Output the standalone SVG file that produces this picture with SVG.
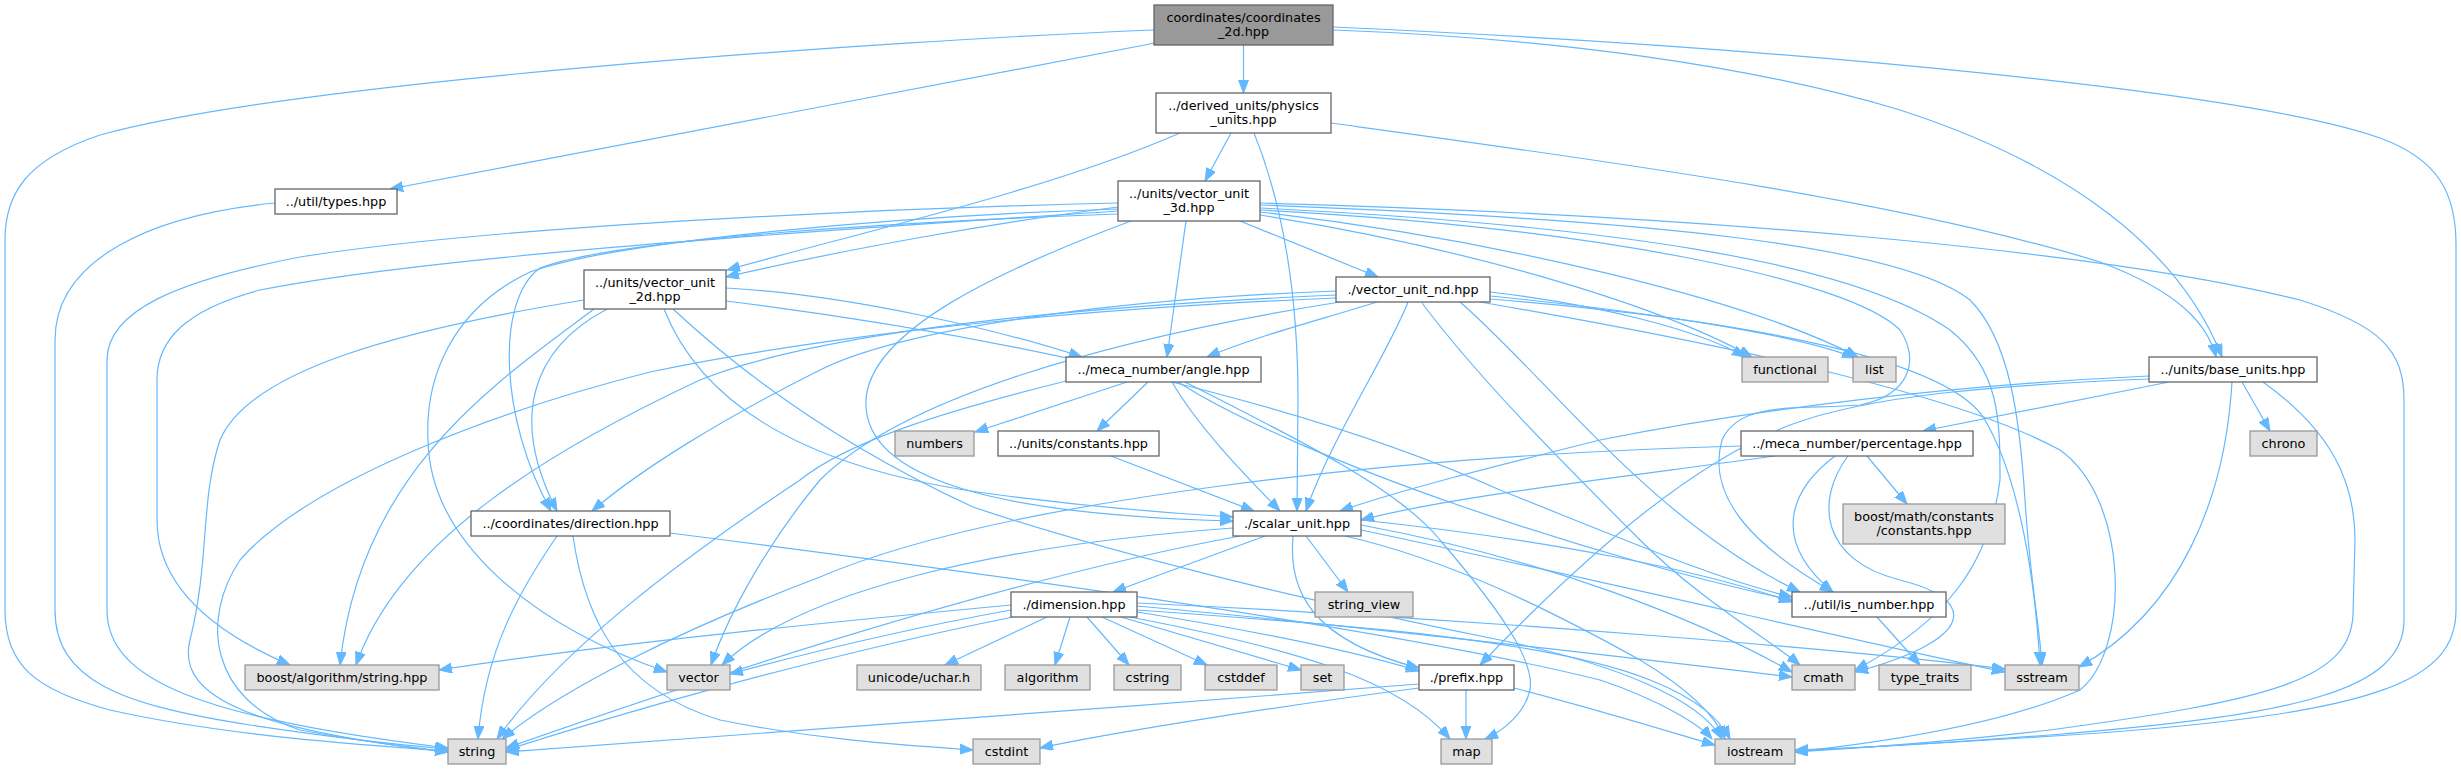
<svg xmlns="http://www.w3.org/2000/svg" width="2461" height="769" viewBox="0 0 2461 769">
<style>
.e{fill:none;stroke:#63b8ff;stroke-width:1.2;marker-end:url(#ah)}
.n rect{fill:#ffffff;stroke:#666666;stroke-width:1.3}
.g rect{fill:#e0e0e0;stroke:#999999;stroke-width:1.3}
.r rect{fill:#999999;stroke:#666666;stroke-width:1.3}
text{font-family:"DejaVu Sans","Liberation Sans",sans-serif;font-size:12.8px;fill:#000000;text-anchor:middle}
</style>
<defs>
<marker id="ah" markerUnits="userSpaceOnUse" markerWidth="14" markerHeight="11" refX="13" refY="5" orient="auto">
<path d="M0,0 L13,5 L0,10 z" fill="#63b8ff" stroke="#63b8ff" stroke-width="1"/>
</marker>
</defs>
<rect width="2461" height="769" fill="#ffffff"/>
<g id="connectors">
<path class="e" d="M1243.5,45 L1243.5,93"/>
<path class="e" d="M1155,43 L390,189"/>
<path class="e" d="M1154,30 C900,40 300,80 100,135 C25,160 5,195 5,240 L5,610 C5,665 35,690 110,710 C220,735 360,745 448,751"/>
<path class="e" d="M1333,30 C1550,38 1750,65 1900,110 C2070,165 2180,250 2222,357"/>
<path class="e" d="M1333,27 C1800,48 2250,92 2380,138 C2440,160 2456,195 2456,245 L2456,610 C2456,680 2380,712 2100,733 C1950,743 1850,748 1795,751"/>
<path class="e" d="M275,203 C150,215 55,260 55,340 L55,610 C55,680 120,705 250,725 C330,737 400,745 448,749"/>
<path class="e" d="M1231,133 L1205,181"/>
<path class="e" d="M1180,133 C1050,190 850,235 727,270"/>
<path class="e" d="M1254,133 C1285,210 1298,300 1298,400 L1297,511"/>
<path class="e" d="M1331,123 C1600,160 1900,200 2100,262 C2180,292 2208,325 2216,357"/>
<path class="e" d="M1118,207 C1000,222 850,248 726,277"/>
<path class="e" d="M1118,203 C900,208 500,225 300,257 C180,280 107,310 107,360 L107,610 C107,680 200,718 448,748"/>
<path class="e" d="M1118,211 C900,226 450,252 260,290 C185,310 157,340 157,380 L157,520 C157,590 220,635 290,665"/>
<path class="e" d="M1118,214 C900,222 620,238 540,268 C495,300 500,420 551,511"/>
<path class="e" d="M1118,209 C900,216 620,240 530,272 C450,310 425,380 428,440 C430,540 530,625 667,672"/>
<path class="e" d="M1131,221 C1000,270 870,330 866,400 C862,480 1000,515 1233,521"/>
<path class="e" d="M1186,221 L1167,357"/>
<path class="e" d="M1240,221 L1378,277"/>
<path class="e" d="M1260,215 C1450,245 1650,300 1752,357"/>
<path class="e" d="M1260,212 C1500,240 1750,300 1858,357"/>
<path class="e" d="M1260,203 C1700,215 2100,250 2300,300 C2380,325 2404,350 2404,400 L2404,620 C2404,690 2300,715 2050,735 C1920,745 1830,749 1795,750"/>
<path class="e" d="M1260,205 C1650,220 1900,245 1970,300 C2010,340 2020,420 2025,500 C2030,580 2040,630 2042,665"/>
<path class="e" d="M1260,208 C1600,225 1850,260 1950,330 C2000,370 2000,420 2000,480 C1990,560 1950,620 1855,670"/>
<path class="e" d="M1260,210 C1600,228 1850,280 1900,330 C1920,360 1910,395 1860,405 C1800,410 1740,400 1722,440 C1705,500 1760,550 1833,592"/>
<path class="e" d="M726,288 C850,295 1000,330 1082,357"/>
<path class="e" d="M726,301 C1000,335 1300,400 1500,490 C1650,550 1720,580 1792,597"/>
<path class="e" d="M584,300 C400,330 250,370 220,440 C200,500 210,560 190,640 C175,700 260,730 448,752"/>
<path class="e" d="M594,309 C500,380 360,470 340,665"/>
<path class="e" d="M607,309 C530,350 510,420 557,511"/>
<path class="e" d="M664,309 C700,400 800,470 1000,495 C1100,508 1180,514 1233,517"/>
<path class="e" d="M673,309 C760,390 860,455 973,507 C1100,550 1300,600 1500,640 C1620,665 1700,700 1722,739"/>
<path class="e" d="M1377,302 C1320,320 1260,335 1207,357"/>
<path class="e" d="M1408,302 C1390,350 1330,440 1306,511"/>
<path class="e" d="M1336,291 C1100,300 900,330 820,370 C720,420 640,470 592,511"/>
<path class="e" d="M1336,295 C1000,310 800,340 700,380 C550,450 400,540 356,665"/>
<path class="e" d="M1336,298 C1000,312 780,345 650,372 C500,410 310,480 240,560 C200,620 210,700 300,730 C380,745 420,748 448,752"/>
<path class="e" d="M1340,302 C1100,340 900,400 820,480 C770,540 730,610 711,665"/>
<path class="e" d="M1490,292 C1600,305 1700,330 1745,357"/>
<path class="e" d="M1490,296 C1650,312 1800,335 1855,358"/>
<path class="e" d="M1460,302 C1550,380 1650,520 1800,592"/>
<path class="e" d="M1422,303 C1480,380 1560,460 1640,540 C1700,600 1770,640 1800,665"/>
<path class="e" d="M1490,299 C1750,320 1950,360 1985,420 C2020,480 2035,580 2040,665"/>
<path class="e" d="M1480,302 C1700,340 1950,390 2060,450 C2130,500 2130,650 2080,690 C1990,730 1850,746 1795,752"/>
<path class="e" d="M1127,382 L975,432"/>
<path class="e" d="M1148,382 L1097,431"/>
<path class="e" d="M1172,382 C1200,430 1250,480 1280,511"/>
<path class="e" d="M1178,382 C1300,460 1600,560 1792,600"/>
<path class="e" d="M1066,381 C950,410 850,440 800,480 C680,560 560,650 497,739"/>
<path class="e" d="M1185,382 C1300,440 1400,490 1440,540 C1500,610 1535,660 1530,690 C1525,712 1505,730 1485,739"/>
<path class="e" d="M1111,456 L1254,511"/>
<path class="e" d="M2169,382 L1923,431"/>
<path class="e" d="M2242,382 L2270,431"/>
<path class="e" d="M2232,382 C2225,500 2180,610 2079,667"/>
<path class="e" d="M2263,382 C2330,430 2355,480 2355,540 L2353,615 C2350,680 2270,700 2050,730 C1920,745 1840,749 1795,752"/>
<path class="e" d="M2149,376 C1950,385 1750,410 1600,440 C1500,465 1400,490 1340,511"/>
<path class="e" d="M2149,379 C2000,385 1870,395 1790,425 C1700,460 1600,540 1480,665"/>
<path class="e" d="M1775,456 C1600,480 1450,497 1361,520"/>
<path class="e" d="M1741,446 C1400,455 1000,500 820,577 C680,630 560,690 502,739"/>
<path class="e" d="M1835,456 C1790,490 1770,540 1833,592"/>
<path class="e" d="M1848,456 C1815,500 1820,560 1900,580 C1980,600 1975,640 1855,672"/>
<path class="e" d="M1867,456 L1907,504"/>
<path class="e" d="M557,536 C520,590 485,650 478,739"/>
<path class="e" d="M573,536 C585,620 620,690 720,720 C820,740 900,745 973,750"/>
<path class="e" d="M670,533 C1000,575 1400,630 1600,680 C1660,700 1700,725 1712,739"/>
<path class="e" d="M1265,536 L1113,592"/>
<path class="e" d="M1306,536 L1348,592"/>
<path class="e" d="M1293,536 C1288,590 1310,640 1419,668"/>
<path class="e" d="M1240,536 C1000,580 700,680 506,748"/>
<path class="e" d="M1233,528 C1000,545 800,590 722,665"/>
<path class="e" d="M1361,520 C1550,540 1700,570 1792,602"/>
<path class="e" d="M1361,525 C1550,560 1700,620 1792,672"/>
<path class="e" d="M1361,530 C1600,580 1850,640 2005,672"/>
<path class="e" d="M1345,536 C1450,560 1550,610 1640,660 C1690,690 1715,715 1725,739"/>
<path class="e" d="M1011,605 C800,625 600,645 439,670"/>
<path class="e" d="M1011,610 C900,630 800,655 730,674"/>
<path class="e" d="M1013,617 C800,660 600,720 506,750"/>
<path class="e" d="M1047,617 L945,665"/>
<path class="e" d="M1070,617 L1055,665"/>
<path class="e" d="M1087,617 L1129,665"/>
<path class="e" d="M1102,617 L1207,665"/>
<path class="e" d="M1121,617 L1301,670"/>
<path class="e" d="M1137,612 C1250,630 1350,650 1419,671"/>
<path class="e" d="M1130,617 C1300,650 1400,680 1450,739"/>
<path class="e" d="M1137,606 C1400,630 1650,660 1792,677"/>
<path class="e" d="M1137,603 C1500,620 1850,650 2005,669"/>
<path class="e" d="M1137,610 C1350,625 1550,640 1650,680 C1700,700 1720,720 1730,739"/>
<path class="e" d="M1419,684 C1100,710 700,735 506,752"/>
<path class="e" d="M1419,688 C1250,710 1100,735 1040,748"/>
<path class="e" d="M1466,690 L1466,739"/>
<path class="e" d="M1514,688 C1600,710 1680,735 1715,745"/>
<path class="e" d="M1877,617 L1920,665"/>
</g>
<g id="node_coordinates_2d" class="r"><rect x="1154" y="5" width="179" height="40"/><text x="1243.5" y="21.5">coordinates/coordinates</text><text x="1243.5" y="35.5">_2d.hpp</text></g>
<g id="node_physics_units" class="n"><rect x="1156" y="93" width="175" height="40"/><text x="1243.5" y="109.5">../derived_units/physics</text><text x="1243.5" y="123.5">_units.hpp</text></g>
<g id="node_types" class="n"><rect x="275" y="189" width="122" height="25"/><text x="336" y="205.5">../util/types.hpp</text></g>
<g id="node_vector_unit_3d" class="n"><rect x="1118" y="181" width="142" height="40"/><text x="1189" y="197.5">../units/vector_unit</text><text x="1189" y="211.5">_3d.hpp</text></g>
<g id="node_vector_unit_2d" class="n"><rect x="584" y="270" width="142" height="39"/><text x="655" y="286.5">../units/vector_unit</text><text x="655" y="300.5">_2d.hpp</text></g>
<g id="node_vector_unit_nd" class="n"><rect x="1336" y="277" width="154" height="25"/><text x="1413" y="293.5">./vector_unit_nd.hpp</text></g>
<g id="node_angle" class="n"><rect x="1066" y="357" width="195" height="25"/><text x="1163.5" y="373.5">../meca_number/angle.hpp</text></g>
<g id="node_functional" class="g"><rect x="1742" y="357" width="86" height="25"/><text x="1785" y="373.5">functional</text></g>
<g id="node_list" class="g"><rect x="1853" y="357" width="43" height="25"/><text x="1874.5" y="373.5">list</text></g>
<g id="node_base_units" class="n"><rect x="2149" y="357" width="168" height="25"/><text x="2233" y="373.5">../units/base_units.hpp</text></g>
<g id="node_numbers" class="g"><rect x="895" y="431" width="79" height="25"/><text x="934.5" y="447.5">numbers</text></g>
<g id="node_constants" class="n"><rect x="998" y="431" width="161" height="25"/><text x="1078.5" y="447.5">../units/constants.hpp</text></g>
<g id="node_percentage" class="n"><rect x="1741" y="431" width="232" height="25"/><text x="1857" y="447.5">../meca_number/percentage.hpp</text></g>
<g id="node_chrono" class="g"><rect x="2250" y="431" width="67" height="25"/><text x="2283.5" y="447.5">chrono</text></g>
<g id="node_direction" class="n"><rect x="471" y="511" width="199" height="25"/><text x="570.5" y="527.5">../coordinates/direction.hpp</text></g>
<g id="node_scalar_unit" class="n"><rect x="1233" y="511" width="128" height="25"/><text x="1297" y="527.5">./scalar_unit.hpp</text></g>
<g id="node_boost_math_constants" class="g"><rect x="1843" y="504" width="162" height="40"/><text x="1924" y="520.5">boost/math/constants</text><text x="1924" y="534.5">/constants.hpp</text></g>
<g id="node_dimension" class="n"><rect x="1011" y="592" width="126" height="25"/><text x="1074" y="608.5">./dimension.hpp</text></g>
<g id="node_string_view" class="g"><rect x="1315" y="592" width="98" height="25"/><text x="1364" y="608.5">string_view</text></g>
<g id="node_is_number" class="n"><rect x="1792" y="592" width="154" height="25"/><text x="1869" y="608.5">../util/is_number.hpp</text></g>
<g id="node_boost_algorithm_string" class="g"><rect x="245" y="665" width="194" height="25"/><text x="342" y="681.5">boost/algorithm/string.hpp</text></g>
<g id="node_vector" class="g"><rect x="667" y="665" width="63" height="25"/><text x="698.5" y="681.5">vector</text></g>
<g id="node_uchar" class="g"><rect x="857" y="665" width="124" height="25"/><text x="919" y="681.5">unicode/uchar.h</text></g>
<g id="node_algorithm" class="g"><rect x="1005" y="665" width="85" height="25"/><text x="1047.5" y="681.5">algorithm</text></g>
<g id="node_cstring" class="g"><rect x="1114" y="665" width="67" height="25"/><text x="1147.5" y="681.5">cstring</text></g>
<g id="node_cstddef" class="g"><rect x="1205" y="665" width="72" height="25"/><text x="1241" y="681.5">cstddef</text></g>
<g id="node_set" class="g"><rect x="1301" y="665" width="43" height="25"/><text x="1322.5" y="681.5">set</text></g>
<g id="node_prefix" class="n"><rect x="1419" y="665" width="95" height="25"/><text x="1466.5" y="681.5">./prefix.hpp</text></g>
<g id="node_cmath" class="g"><rect x="1792" y="665" width="63" height="25"/><text x="1823.5" y="681.5">cmath</text></g>
<g id="node_type_traits" class="g"><rect x="1879" y="665" width="92" height="25"/><text x="1925" y="681.5">type_traits</text></g>
<g id="node_sstream" class="g"><rect x="2005" y="665" width="74" height="25"/><text x="2042" y="681.5">sstream</text></g>
<g id="node_string" class="g"><rect x="448" y="739" width="58" height="25"/><text x="477" y="755.5">string</text></g>
<g id="node_cstdint" class="g"><rect x="973" y="739" width="67" height="25"/><text x="1006.5" y="755.5">cstdint</text></g>
<g id="node_map" class="g"><rect x="1441" y="739" width="51" height="25"/><text x="1466.5" y="755.5">map</text></g>
<g id="node_iostream" class="g"><rect x="1715" y="739" width="80" height="25"/><text x="1755" y="755.5">iostream</text></g>
</svg>
